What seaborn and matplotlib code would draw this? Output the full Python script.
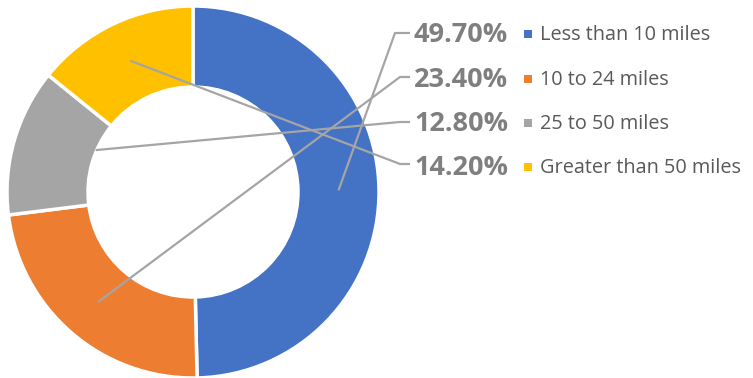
import matplotlib
matplotlib.use("Agg")
import matplotlib.pyplot as plt
import numpy as np
import seaborn as sns

# Commute distance shares
categories = ["Less than 10 miles", "10 to 24 miles", "25 to 50 miles", "Greater than 50 miles"]
shares = [49.7, 23.4, 12.8, 14.2]
pct_labels = [f"{v:.2f}%" for v in shares]
colors = ["#4472C4", "#ED7D31", "#A5A5A5", "#FFC000"]

sns.set_theme(style="white")
plt.rcParams["font.family"] = ["Open Sans", "DejaVu Sans"]

W, H = 753, 378
fig = plt.figure(figsize=(W / 100, H / 100), dpi=100)
ax = fig.add_axes([0, 0, 1, 1])

# donut geometry (pixel units)
cx, cy = 193, H - 192
r_out, r_in = 186, 105
wedges, _ = ax.pie(
    shares, colors=colors, startangle=90, counterclock=False,
    radius=r_out, center=(cx, cy),
    wedgeprops=dict(width=r_out - r_in, edgecolor="white", linewidth=2.5),
)
ax.set_xlim(0, W)
ax.set_ylim(0, H)
ax.set_aspect("auto")
ax.axis("off")

# label column layout
row_y = [35, 80, 124, 168]
line_y = [33, 77, 122, 164]
knee_x = [395, 400, 400, 400]
line_end_x = 410
anchor_r = [145.5, 145.5, 106, 145.5]
anchor_frac = [0.5, 0.5, 0.34, 0.5]   # leader start between theta1 and theta2
pct_x, marker_x, legend_x = 414, 528.5, 540

for w, ar, af, ry, ly, kx, lab, cat, col in zip(
        wedges, anchor_r, anchor_frac, row_y, line_y, knee_x,
        pct_labels, categories, colors):
    ang = np.deg2rad(w.theta1 + af * (w.theta2 - w.theta1))
    ax0 = cx + ar * np.cos(ang)
    ay0 = cy + ar * np.sin(ang)
    ax.plot([ax0, kx, line_end_x], [ay0, H - ly, H - ly],
            color="#A5A5A5", lw=1.6, solid_capstyle="butt", zorder=3)
    ax.text(pct_x, H - ry, lab, fontsize=19.5, fontweight="bold",
            color="#7F7F7F", ha="left", va="center")
    ax.scatter([marker_x], [H - ry + 1], marker="s", s=26, color=col,
               linewidths=0, zorder=4)
    ax.text(legend_x, H - ry, cat, fontsize=14.3, color="#595959",
            ha="left", va="center")

fig.savefig("out.png", dpi=100, facecolor="white")
